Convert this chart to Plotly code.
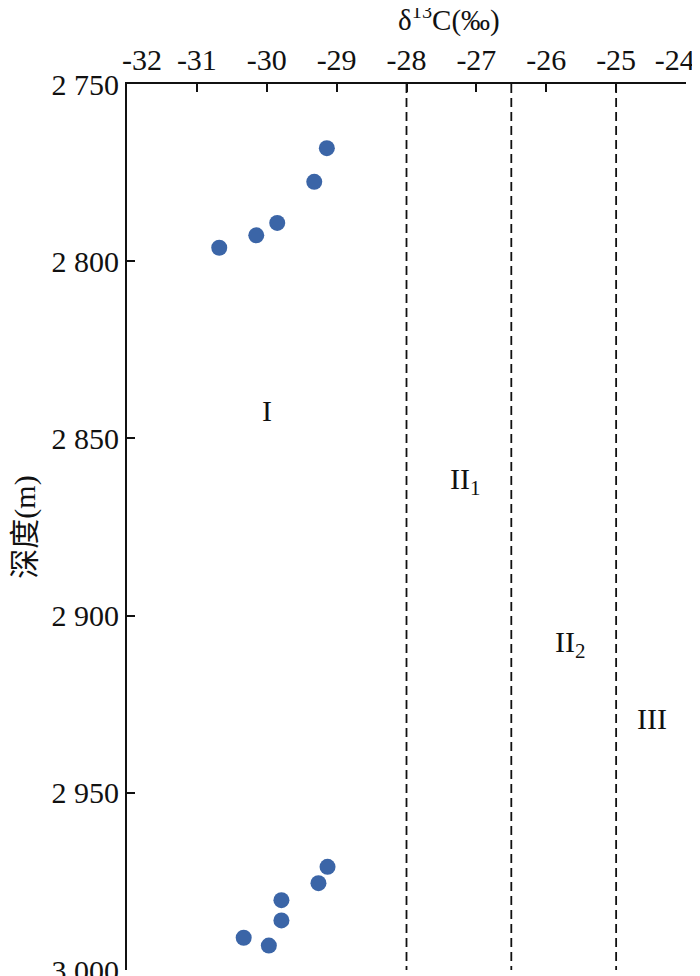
"""Carbon isotope (d13C) versus depth scatter with type boundaries."""

import plotly.graph_objects as go

# Sample points: d13C (permil) and depth (m)
D13C = [-29.14, -29.32, -29.85, -30.15, -30.68,
        -29.13, -29.26, -29.79, -29.79, -30.33, -29.97]
DEPTH = [2768.1, 2777.6, 2789.2, 2792.7, 2796.2,
         2970.9, 2975.5, 2980.3, 2986.0, 2990.9, 2993.1]

# Boundaries between organic-matter types
BOUNDARIES = [-28.0, -26.5, -25.0]

# Zone labels and where they sit
ZONE_TEXT = ["I", "II<sub>1</sub>", "II<sub>2</sub>", "III"]
ZONE_X = [-30.0, -27.17, -25.66, -24.48]
ZONE_Y = [2842, 2862, 2908, 2929]

X_TICKS = [-32, -31, -30, -29, -28, -27, -26, -25, -24]
X_TICK_TEXT = ["\u00a0\u00a0\u00a0\u00a0-32", "-31", "-30", "-29", "-28",
               "-27", "-26", "-25", "-24\u00a0\u00a0\u00a0"]
Y_TICKS = [2750, 2800, 2850, 2900, 2950, 3000]
Y_TICK_TEXT = ["2 750", "2 800", "2 850", "2 900", "2 950", "3 000"]

SERIF = "Liberation Serif, Times New Roman, serif"
MIXED = "Liberation Serif, Noto Sans CJK SC, serif"
INK = "#111111"
MARKER_COLOR = "#3b65a7"
FS = 30

fig = go.Figure()

for xb in BOUNDARIES:
    fig.add_trace(go.Scatter(
        x=[xb, xb],
        y=[Y_TICKS[0], Y_TICKS[-1]],
        mode="lines",
        line=dict(color=INK, width=1.8, dash="9px,5px"),
        hoverinfo="skip",
        showlegend=False,
    ))

fig.add_trace(go.Scatter(
    x=D13C,
    y=DEPTH,
    mode="markers",
    marker=dict(color=MARKER_COLOR, size=16, line=dict(width=0)),
    showlegend=False,
    hovertemplate="δ13C: %{x}<br>深度: %{y} m<extra></extra>",
))

for text, zx, zy in zip(ZONE_TEXT, ZONE_X, ZONE_Y):
    fig.add_annotation(
        x=zx, y=zy, text=text, showarrow=False,
        font=dict(family=SERIF, size=FS, color=INK),
    )

# page body adds an 8px margin, so the figure is 8px smaller each way
fig.update_layout(
    width=692,
    height=968,
    margin=dict(l=119, r=14, t=76, b=6),
    paper_bgcolor="white",
    plot_bgcolor="white",
    font=dict(family=SERIF, size=FS, color=INK),
    title=dict(
        text="δ<sup>13</sup>C(‰)",
        x=(119 + (692 - 14 - 119) / 2) / 692,
        xref="paper",
        xanchor="center",
        y=1 - 12 / 968,
        yanchor="middle",
        font=dict(family=SERIF, size=29, color=INK),
    ),
    xaxis=dict(
        side="top",
        range=[-32, -24],
        tickvals=X_TICKS,
        ticktext=X_TICK_TEXT,
        tickfont=dict(family=SERIF, size=FS, color=INK),
        ticks="inside",
        ticklen=8,
        tickwidth=1.5,
        tickcolor=INK,
        ticklabelstandoff=0,
        ticklabeloverflow="allow",
        automargin=False,
        showline=True,
        linecolor=INK,
        linewidth=2,
        showgrid=False,
        zeroline=False,
    ),
    yaxis=dict(
        range=[3000, 2750],
        tickvals=Y_TICKS,
        ticktext=Y_TICK_TEXT,
        tickfont=dict(family=SERIF, size=FS, color=INK),
        ticks="inside",
        ticklen=8,
        tickwidth=1.5,
        tickcolor=INK,
        ticklabeloverflow="allow",
        automargin=False,
        showline=True,
        linecolor=INK,
        linewidth=2,
        showgrid=False,
        zeroline=False,
        title=dict(text="深度(m)", font=dict(family=MIXED, size=FS, color=INK),
                   standoff=25),
    ),
)

fig.write_html("out.html")
